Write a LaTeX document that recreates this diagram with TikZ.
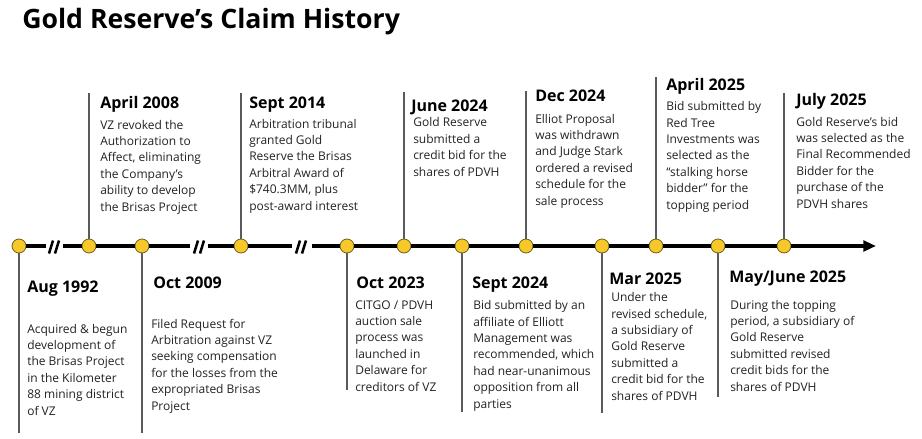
\documentclass[tikz,border=0pt]{standalone}
\usepackage{fontspec}
\setmainfont{Open Sans}
\usetikzlibrary{arrows.meta}
\definecolor{gold}{HTML}{F6C829}
\definecolor{ring}{HTML}{6E5E1E}
\definecolor{stemc}{HTML}{5A5A5A}
\definecolor{ink}{HTML}{222222}
\begin{document}
\begin{tikzpicture}[x=0.75pt,y=-0.75pt,
  dot/.style={circle,fill=gold,draw=ring,line width=0.6pt,minimum size=10.5pt,inner sep=0pt},
  axis/.style={line width=2.6pt,black},
  stemline/.style={draw=stemc,line width=0.9pt},
  slash/.style={line width=1.9pt,black},
  head/.style={font=\bfseries\fontsize{12}{14}\selectfont,anchor=base west,inner sep=0pt,text=black},
  body/.style={font=\fontsize{9}{12.3}\selectfont,anchor=base west,align=left,inner sep=0pt,text=ink}]
\useasboundingbox (0,0) rectangle (922,439);

% title
\node[font=\bfseries\fontsize{20}{24}\selectfont,anchor=base west,inner sep=0pt] (title) at (22,28) {Gold Reserve’s Claim History};

% milestones
\node[dot] (c1) at (19,246) {};
\node[dot] (c2) at (89,246) {};
\node[dot] (c3) at (142,246) {};
\node[dot] (c4) at (241,246) {};
\node[dot] (c5) at (347,246) {};
\node[dot] (c6) at (404,246) {};
\node[dot] (c7) at (462,246) {};
\node[dot] (c8) at (526,246) {};
\node[dot] (c9) at (602,246) {};
\node[dot] (c10) at (656,246) {};
\node[dot] (c11) at (718,246) {};
\node[dot] (c12) at (784,246) {};

% break ends and arrow tip
\coordinate (a1) at (46,246);  \coordinate (b1) at (63,246);
\coordinate (a2) at (190,246); \coordinate (b2) at (208,246);
\coordinate (a3) at (292,246); \coordinate (b3) at (312,246);
\coordinate (tip) at (876,246);

% axis
\draw[axis] (c1) -- (a1);
\draw[axis] (b1) -- (c2);
\draw[axis] (c2) -- (c3);
\draw[axis] (c3) -- (a2);
\draw[axis] (b2) -- (c4);
\draw[axis] (c4) -- (a3);
\draw[axis] (b3) -- (c5);
\draw[axis] (c5) -- (c6);
\draw[axis] (c6) -- (c7);
\draw[axis] (c7) -- (c8);
\draw[axis] (c8) -- (c9);
\draw[axis] (c9) -- (c10);
\draw[axis] (c10) -- (c11);
\draw[axis] (c11) -- (c12);
\draw[axis,-{Triangle[length=9.5pt,width=8pt]}] (c12) -- (tip);

% break marks
\foreach \x in {49,194,296}{
  \draw[slash] (\x,253.5) -- (\x+4,240.5);
  \draw[slash] (\x+6,253.5) -- (\x+10,240.5);
}

% stems
\coordinate (t2) at (89,93);
\coordinate (t4) at (241,93);
\coordinate (t6) at (404,92);
\coordinate (t8) at (526,91);
\coordinate (t10) at (656,77);
\coordinate (t12) at (784,93);
\coordinate (s1) at (19,433);
\coordinate (s3) at (142,433);
\coordinate (s5) at (347,390);
\coordinate (s7) at (462,412);
\coordinate (s9) at (602,413);
\coordinate (s11) at (718,397);
\draw[stemline] (c2) -- (t2);
\draw[stemline] (c4) -- (t4);
\draw[stemline] (c6) -- (t6);
\draw[stemline] (c8) -- (t8);
\draw[stemline] (c10) -- (t10);
\draw[stemline] (c12) -- (t12);
\draw[stemline] (c1) -- (s1);
\draw[stemline] (c3) -- (s3);
\draw[stemline] (c5) -- (s5);
\draw[stemline] (c7) -- (s7);
\draw[stemline] (c9) -- (s9);
\draw[stemline] (c11) -- (s11);

% headings
\node[head] (h1) at (27,292) {Aug 1992};
\node[head] (h2) at (100,108) {April 2008};
\node[head] (h3) at (153,288) {Oct 2009};
\node[head] (h4) at (249,108) {Sept 2014};
\node[head] (h5) at (356,288) {Oct 2023};
\node[head] (h6) at (411,111) {June 2024};
\node[head] (h7) at (472,288) {Sept 2024};
\node[head] (h8) at (535,101) {Dec 2024};
\node[head] (h9) at (609,284) {Mar 2025};
\node[head] (h10) at (666,90) {April 2025};
\node[head] (h11) at (729,282) {May/June 2025};
\node[head] (h12) at (796,105) {July 2025};

% bodies (anchored at the baseline of the last line)
\node[body] (d1) at (27,415) {Acquired \& begun\\development of\\the Brisas Project\\in the Kilometer\\88 mining district\\of VZ};
\node[body] (d2) at (100,211) {VZ revoked the\\Authorization to\\Affect, eliminating\\the Company’s\\ability to develop\\the Brisas Project};
\node[body] (d3) at (151,410) {Filed Request for\\Arbitration against VZ\\seeking compensation\\for the losses from the\\expropriated Brisas\\Project};
\node[body] (d4) at (249,210) {Arbitration tribunal\\granted Gold\\Reserve the Brisas\\Arbitral Award of\\\$740.3MM, plus\\post-award interest};
\node[body] (d5) at (355,391) {CITGO / PDVH\\auction sale\\process was\\launched in\\Delaware for\\creditors of VZ};
\node[body] (d6) at (413,176) {Gold Reserve\\submitted a\\credit bid for the\\shares of PDVH};
\node[body] (d7) at (473,408) {Bid submitted by an\\affiliate of Elliott\\Management was\\recommended, which\\had near-unanimous\\opposition from all\\parties};
\node[body] (d8) at (535,205) {Elliot Proposal\\was withdrawn\\and Judge Stark\\ordered a revised\\schedule for the\\sale process};
\node[body] (d9) at (611,400) {Under the\\revised schedule,\\a subsidiary of\\Gold Reserve\\submitted a\\credit bid for the\\shares of PDVH};
\node[body] (d10) at (666,209) {Bid submitted by\\Red Tree\\Investments was\\selected as the\\“stalking horse\\bidder” for the\\topping period};
\node[body] (d11) at (730,391) {During the topping\\period, a subsidiary of\\Gold Reserve\\submitted revised\\credit bids for the\\shares of PDVH};
\node[body] (d12) at (796,208) {Gold Reserve’s bid\\was selected as the\\Final Recommended\\Bidder for the\\purchase of the\\PDVH shares};
\end{tikzpicture}
\end{document}
